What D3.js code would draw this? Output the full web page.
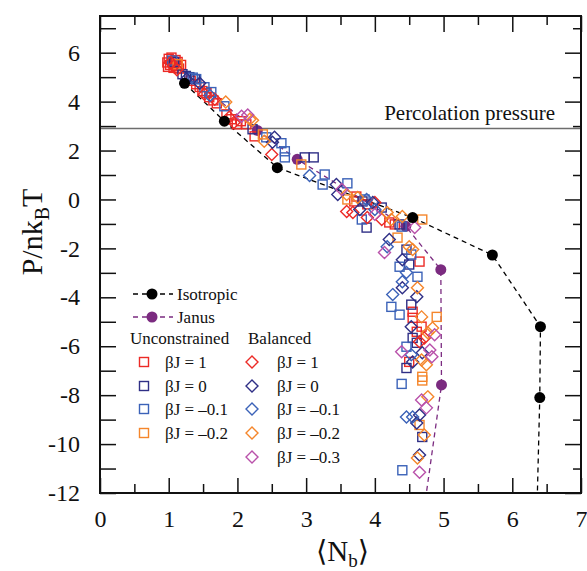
<!DOCTYPE html>
<html>
<head>
<meta charset="utf-8">
<script src="https://cdn.jsdelivr.net/npm/d3@7/dist/d3.min.js"></script>
<style>
  html, body { margin: 0; padding: 0; background: #fff; }
  svg text { font-family: 'Liberation Serif', 'Times New Roman', 'DejaVu Serif', serif; fill: #111; }
</style>
</head>
<body>
<svg id="chart" width="587" height="571"></svg>
<script>
// Reference curves: isotropic and Janus particles
const isotropic = [[1.23, 4.75], [1.81, 3.2], [2.58, 1.3], [4.55, -0.74], [5.71, -2.27], [6.41, -5.2], [6.40, -8.1], [6.36, -12.6]];
const janus = [[1.05, 5.55], [2.29, 2.82], [2.87, 1.64], [4.45, -1.10], [4.96, -2.87], [4.97, -7.58], [4.72, -12.6]];

// Unconstrained simulations (squares)
const unconstrained1 = [[1.00, 5.75], [1.05, 5.65], [1.08, 5.55], [1.02, 5.50], [1.12, 5.45], [1.15, 5.35], [0.98, 5.60], [1.10, 5.70], [1.04, 5.80], [1.13, 5.62], [0.99, 5.42], [1.07, 5.38], [1.18, 5.50], [1.40, 4.71], [1.32, 4.85], [1.49, 4.43], [1.45, 4.60], [1.59, 4.18], [1.55, 4.35], [1.70, 3.93], [1.65, 4.05], [1.84, 3.48], [1.91, 3.28], [1.99, 3.07], [2.05, 3.20], [2.13, 3.07], [2.25, 2.58], [3.73, 0.12], [3.70, -0.08], [3.89, -0.20], [4.29, -1.02], [4.21, -0.94], [4.65, -2.54], [4.55, -4.59], [4.55, -4.84], [4.61, -5.41], [4.68, -5.20], [4.50, -6.64]];
const unconstrained0 = [[1.20, 5.12], [1.30, 5.00], [1.38, 4.92], [1.08, 5.62], [1.25, 5.05], [2.22, 2.87], [2.98, 1.72], [3.11, 1.72], [3.82, -0.08], [4.10, -0.33], [3.88, -1.15], [4.36, -1.02], [4.46, -2.05], [4.50, -2.66], [4.53, -4.30], [4.55, -5.66], [4.46, -6.89], [4.69, -9.71], [4.61, -5.86]];
const unconstrainedM01 = [[1.40, 4.92], [1.52, 4.59], [1.62, 4.39], [1.81, 3.81], [1.05, 5.68], [1.35, 4.98], [2.42, 2.54], [2.64, 2.30], [2.69, 1.97], [2.69, 1.72], [3.27, 1.02], [3.24, 0.61], [3.60, 0.66], [3.85, 0.0], [3.81, -0.82], [4.39, -1.11], [4.53, -2.25], [4.36, -2.75], [4.62, -3.16], [4.24, -4.39], [4.36, -4.71], [4.46, -6.02], [4.39, -7.54], [4.40, -11.07]];
const unconstrainedM02 = [[1.13, 5.53], [2.37, 2.66], [2.93, 1.43], [3.60, 0.0], [4.69, -0.82], [4.33, -1.56], [4.90, -4.80], [4.69, -7.25], [4.69, -7.40], [4.65, -9.22]];

// Balanced simulations (diamonds)
const balanced1 = [[1.03, 5.60], [1.07, 5.45], [1.12, 5.30], [1.52, 4.30], [1.67, 4.10], [1.88, 3.36], [1.95, 3.15], [2.50, 1.84], [3.59, -0.49], [3.68, -0.53], [4.00, -0.12], [3.89, -0.74], [4.10, -0.82], [4.65, -5.82], [4.72, -5.66]];
const balanced0 = [[1.26, 4.92], [1.45, 4.75], [2.51, 2.34], [2.54, 2.54], [3.44, 0.61], [3.46, 0.20], [3.78, -0.41], [3.97, -0.12], [4.21, -1.64], [4.40, -2.46], [4.40, -3.61], [4.61, -3.98], [4.53, -5.20], [4.69, -6.27], [4.55, -6.64], [4.65, -8.81], [4.61, -9.14], [4.65, -10.45]];
const balancedM01 = [[1.60, 4.25], [3.05, 0.98], [3.88, 0.0], [4.00, -0.41], [4.18, -1.93], [4.46, -2.99], [4.40, -3.36], [4.26, -3.89], [4.53, -6.35], [4.46, -8.89], [4.55, -8.89]];
const balancedM02 = [[1.83, 3.98], [2.22, 3.24], [2.39, 2.38], [2.18, 3.28], [3.59, 0.20], [3.75, 0.08], [4.18, -0.53], [4.24, -0.82], [4.40, -0.70], [4.50, -1.93], [4.55, -2.05], [4.62, -3.61], [4.68, -4.80], [4.84, -5.25], [4.77, -5.45], [4.68, -6.56], [4.75, -6.76], [4.77, -8.07], [4.72, -9.63], [4.62, -10.57]];
const balancedM03 = [[2.06, 3.40], [2.15, 3.45], [3.52, 0.41], [4.00, -0.61], [4.58, -1.15], [4.14, -2.17], [4.87, -5.53], [4.39, -6.23], [4.80, -6.15], [4.83, -6.43], [4.68, -8.20], [4.75, -8.52], [4.65, -11.15]];

const xTicksMajor = [0, 1, 2, 3, 4, 5, 6, 7];
const xTicksMinor = [0.5, 1.5, 2.5, 3.5, 4.5, 5.5, 6.5];
const yTicksMajor = [-12, -10, -8, -6, -4, -2, 0, 2, 4, 6];
const yTicksMinor = [-11, -9, -7, -5, -3, -1, 1, 3, 5, 7];
const percolationPressure = 2.9;

const colors = {
  red: '#ec2a26',
  navy: '#2f2f86',
  blue: '#3b62b8',
  orange: '#f5862b',
  magenta: '#b951aa',
  janus: '#7b2b80',
  black: '#000'
};

const series = [
  { data: unconstrained1, shape: 'square', color: colors.red, label: 'βJ = 1' },
  { data: unconstrained0, shape: 'square', color: colors.navy, label: 'βJ = 0' },
  { data: unconstrainedM01, shape: 'square', color: colors.blue, label: 'βJ = –0.1' },
  { data: unconstrainedM02, shape: 'square', color: colors.orange, label: 'βJ = –0.2' },
  { data: balanced1, shape: 'diamond', color: colors.red, label: 'βJ = 1' },
  { data: balanced0, shape: 'diamond', color: colors.navy, label: 'βJ = 0' },
  { data: balancedM01, shape: 'diamond', color: colors.blue, label: 'βJ = –0.1' },
  { data: balancedM02, shape: 'diamond', color: colors.orange, label: 'βJ = –0.2' },
  { data: balancedM03, shape: 'diamond', color: colors.magenta, label: 'βJ = –0.3' }
];

const margin = { left: 100, right: 6, top: 16, bottom: 78 };
const W = 587, H = 571;
const x = d3.scaleLinear().domain([0, 7]).range([margin.left, W - margin.right]);
const y = d3.scaleLinear().domain([-12, 7.5]).range([H - margin.bottom, margin.top]);
const serif = "'Liberation Serif', 'Times New Roman', 'DejaVu Serif', serif";

const svg = d3.select('#chart');

svg.append('defs').append('clipPath').attr('id', 'plot-clip')
  .append('rect')
  .attr('x', x(0)).attr('y', y(7.5))
  .attr('width', x(7) - x(0)).attr('height', y(-12) - y(7.5));

const plot = svg.append('g').attr('clip-path', 'url(#plot-clip)');

// Percolation pressure line
plot.append('line')
  .attr('x1', x(0)).attr('x2', x(7))
  .attr('y1', y(percolationPressure)).attr('y2', y(percolationPressure))
  .attr('stroke', '#6d6d6d').attr('stroke-width', 1.5);

svg.append('text')
  .attr('x', 555).attr('y', y(percolationPressure) - 9)
  .attr('text-anchor', 'end')
  .attr('font-size', 21)
  .text('Percolation pressure');

const line = d3.line().x(d => x(d[0])).y(d => y(d[1]));

// Dashed guide curves
plot.append('path').datum(isotropic)
  .attr('d', line).attr('fill', 'none')
  .attr('stroke', colors.black).attr('stroke-width', 1.3).attr('stroke-dasharray', '5,4');
plot.append('path').datum(janus)
  .attr('d', line).attr('fill', 'none')
  .attr('stroke', colors.janus).attr('stroke-width', 1.3).attr('stroke-dasharray', '5,4');

// Hollow markers
const SQ = 4.5, DM = 6;
function drawMarker(g, shape, cx, cy, color) {
  if (shape === 'square') {
    g.append('rect')
      .attr('x', cx - SQ).attr('y', cy - SQ)
      .attr('width', 2 * SQ).attr('height', 2 * SQ)
      .attr('fill', 'none').attr('stroke', color).attr('stroke-width', 1.4);
  } else {
    g.append('path')
      .attr('d', `M${cx},${cy - DM}L${cx + DM},${cy}L${cx},${cy + DM}L${cx - DM},${cy}Z`)
      .attr('fill', 'none').attr('stroke', color).attr('stroke-width', 1.4);
  }
}

// Janus points sit beneath the simulation markers
plot.append('g').selectAll('circle').data(janus).join('circle')
  .attr('cx', d => x(d[0])).attr('cy', d => y(d[1])).attr('r', 5.5)
  .attr('fill', colors.janus);

series.forEach(s => {
  const g = plot.append('g');
  s.data.forEach(d => drawMarker(g, s.shape, x(d[0]), y(d[1]), s.color));
});

plot.append('g').selectAll('circle').data(isotropic).join('circle')
  .attr('cx', d => x(d[0])).attr('cy', d => y(d[1])).attr('r', 5.5)
  .attr('fill', colors.black);

// Axes: ticks point inward on all four sides
const axisStyle = g => {
  g.attr('font-family', serif);
  g.selectAll('.domain').remove();
  g.selectAll('.tick line').attr('stroke', '#111').attr('stroke-width', 1.5);
  g.selectAll('.tick text').attr('font-size', 24).attr('fill', '#111');
};
const fmt = d => String(d);

svg.append('g').attr('transform', `translate(0,${y(-12)})`)
  .call(d3.axisBottom(x).tickValues(xTicksMajor).tickSize(-15).tickPadding(17).tickFormat(fmt)).call(axisStyle);
svg.append('g').attr('transform', `translate(0,${y(-12)})`)
  .call(d3.axisBottom(x).tickValues(xTicksMinor).tickSize(-9).tickFormat('')).call(axisStyle);
svg.append('g').attr('transform', `translate(0,${y(7.5)})`)
  .call(d3.axisTop(x).tickValues(xTicksMajor).tickSize(-16).tickFormat('')).call(axisStyle);
svg.append('g').attr('transform', `translate(0,${y(7.5)})`)
  .call(d3.axisTop(x).tickValues(xTicksMinor).tickSize(-9).tickFormat('')).call(axisStyle);

svg.append('g').attr('transform', `translate(${x(0)},0)`)
  .call(d3.axisLeft(y).tickValues(yTicksMajor).tickSize(-16).tickPadding(20).tickFormat(fmt)).call(axisStyle);
svg.append('g').attr('transform', `translate(${x(0)},0)`)
  .call(d3.axisLeft(y).tickValues(yTicksMinor).tickSize(-16).tickFormat('')).call(axisStyle);
svg.append('g').attr('transform', `translate(${x(7)},0)`)
  .call(d3.axisRight(y).tickValues(yTicksMajor).tickSize(-16).tickFormat('')).call(axisStyle);
svg.append('g').attr('transform', `translate(${x(7)},0)`)
  .call(d3.axisRight(y).tickValues(yTicksMinor).tickSize(-8).tickFormat('')).call(axisStyle);

// Frame
svg.append('rect')
  .attr('x', x(0)).attr('y', y(7.5))
  .attr('width', x(7) - x(0)).attr('height', y(-12) - y(7.5))
  .attr('fill', 'none').attr('stroke', '#111').attr('stroke-width', 2);

// Axis titles
const xt = svg.append('text')
  .attr('x', (x(0) + x(7)) / 2 + 2).attr('y', 561)
  .attr('text-anchor', 'middle').attr('font-size', 29);
xt.append('tspan').text('\u27E8N');
xt.append('tspan').attr('font-size', 19).attr('dy', 6).text('b');
xt.append('tspan').attr('dy', -6).text('\u27E9');

const yt = svg.append('text')
  .attr('transform', `translate(42,232) rotate(-90)`)
  .attr('text-anchor', 'middle').attr('font-size', 30);
yt.append('tspan').text('P/nk');
yt.append('tspan').attr('font-size', 20).attr('dy', 7).text('B');
yt.append('tspan').attr('dy', -7).text('T');

// Legend
const lg = svg.append('g');
const legendLines = [
  { label: 'Isotropic', color: colors.black, y: 294 },
  { label: 'Janus', color: colors.janus, y: 317 }
];
legendLines.forEach(l => {
  lg.append('line').attr('x1', 133).attr('x2', 173).attr('y1', l.y).attr('y2', l.y)
    .attr('stroke', l.color).attr('stroke-width', 1.3).attr('stroke-dasharray', '5,4');
  lg.append('circle').attr('cx', 152).attr('cy', l.y).attr('r', 5.5).attr('fill', l.color);
  lg.append('text').attr('x', 177).attr('y', l.y + 6).attr('font-size', 17).text(l.label);
});
lg.append('text').attr('x', 130).attr('y', 344).attr('font-size', 17).text('Unconstrained');
lg.append('text').attr('x', 248).attr('y', 344).attr('font-size', 17).text('Balanced');

const rowY = [362, 386, 409, 433, 457];
series.filter(s => s.shape === 'square').forEach((s, i) => {
  drawMarker(lg, 'square', 144, rowY[i], s.color);
  lg.append('text').attr('x', 165).attr('y', rowY[i] + 6).attr('font-size', 17).text(s.label);
});
series.filter(s => s.shape === 'diamond').forEach((s, i) => {
  drawMarker(lg, 'diamond', 252, rowY[i], s.color);
  lg.append('text').attr('x', 277).attr('y', rowY[i] + 6).attr('font-size', 17).text(s.label);
});
</script>
</body>
</html>
